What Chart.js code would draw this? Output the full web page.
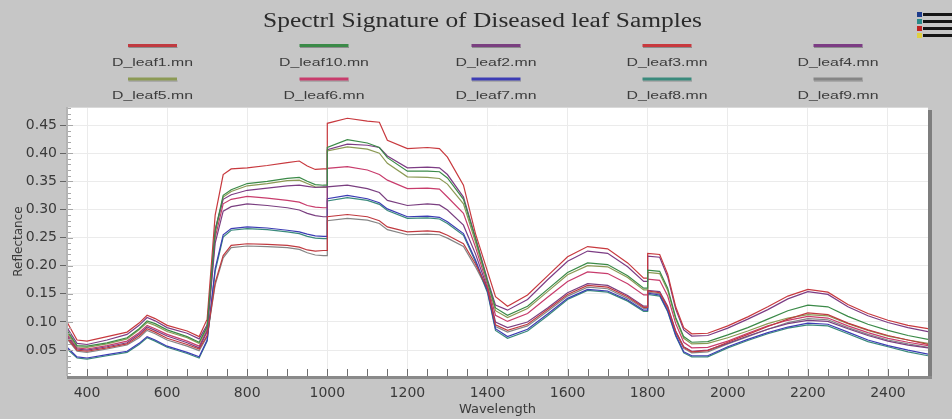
<!DOCTYPE html>
<html>
<head>
<meta charset="utf-8">
<script src="https://cdn.jsdelivr.net/npm/chart.js@4/dist/chart.umd.min.js"></script>
<style>
html,body{margin:0;padding:0;background:#c6c6c6;overflow:hidden;}
#wrap{width:952px;height:419px;position:relative;}
</style>
</head>
<body>
<div id="wrap"><canvas id="c" width="952" height="419"></canvas></div>
<script>
// ---------- data ----------
const chartTitle = 'Spectrl Signature of Diseased leaf Samples';
const xTitle = 'Wavelength';
const yTitle = 'Reflectance';

const wavelengths = [350,375,400,450,500,530,550,570,600,650,680,700,
  720,740,760,800,850,900,930,950,970,990,1000,
  1000,1050,1100,1130,1150,1200,1250,1280,1300,1340,1370,1400,1420,
  1450,1500,1550,1600,1650,1700,1750,1790,1800,
  1800,1830,1850,1870,1890,1910,1950,2000,2050,2100,2150,2200,2250,2300,2350,2400,2450,2500];

const leaf1 = [0.072,0.050,0.048,0.054,0.061,0.075,0.088,0.082,0.071,0.060,0.052,0.076,
  0.170,0.218,0.236,0.239,0.238,0.236,0.233,0.228,0.226,0.227,0.227,
  0.287,0.291,0.287,0.280,0.269,0.260,0.262,0.260,0.254,0.239,0.203,0.160,0.095,
  0.085,0.096,0.122,0.149,0.165,0.162,0.145,0.126,0.126,
  0.155,0.152,0.126,0.083,0.055,0.047,0.049,0.064,0.078,0.092,0.105,0.116,0.113,0.098,0.086,0.076,0.068,0.060];
const leaf10 = [0.085,0.058,0.057,0.063,0.072,0.088,0.102,0.097,0.086,0.074,0.064,0.092,
  0.262,0.325,0.335,0.346,0.350,0.355,0.357,0.350,0.344,0.343,0.343,
  0.410,0.424,0.418,0.410,0.392,0.368,0.368,0.367,0.356,0.318,0.248,0.172,0.125,
  0.112,0.128,0.158,0.188,0.205,0.202,0.182,0.160,0.160,
  0.192,0.190,0.160,0.108,0.074,0.064,0.065,0.077,0.090,0.105,0.120,0.130,0.127,0.110,0.096,0.085,0.076,0.069];
const leaf2 = [0.075,0.052,0.050,0.056,0.063,0.078,0.091,0.085,0.075,0.063,0.054,0.083,
  0.240,0.297,0.305,0.310,0.307,0.303,0.299,0.293,0.289,0.287,0.287,
  0.340,0.343,0.337,0.330,0.316,0.307,0.310,0.308,0.299,0.272,0.221,0.160,0.100,
  0.090,0.100,0.125,0.152,0.168,0.165,0.147,0.128,0.128,
  0.156,0.154,0.128,0.084,0.056,0.048,0.050,0.062,0.075,0.087,0.097,0.103,0.101,0.088,0.076,0.066,0.059,0.054];
const leaf3 = [0.100,0.068,0.066,0.074,0.082,0.098,0.112,0.106,0.094,0.084,0.074,0.105,
  0.290,0.362,0.372,0.374,0.378,0.383,0.386,0.377,0.371,0.372,0.372,
  0.453,0.462,0.457,0.455,0.423,0.408,0.410,0.408,0.393,0.343,0.257,0.190,0.145,
  0.128,0.148,0.182,0.216,0.234,0.230,0.205,0.178,0.178,
  0.222,0.220,0.185,0.127,0.090,0.079,0.080,0.093,0.109,0.127,0.146,0.158,0.153,0.131,0.115,0.103,0.094,0.088];
const leaf4 = [0.090,0.062,0.060,0.068,0.078,0.094,0.108,0.102,0.090,0.080,0.070,0.095,
  0.265,0.318,0.326,0.334,0.338,0.342,0.343,0.341,0.339,0.340,0.340,
  0.406,0.416,0.414,0.410,0.395,0.374,0.375,0.374,0.362,0.322,0.250,0.175,0.130,
  0.121,0.140,0.175,0.208,0.226,0.222,0.198,0.172,0.172,
  0.217,0.215,0.180,0.123,0.086,0.075,0.076,0.089,0.105,0.122,0.141,0.154,0.149,0.127,0.111,0.099,0.090,0.083];
const leaf5 = [0.082,0.056,0.055,0.061,0.070,0.086,0.099,0.094,0.083,0.072,0.062,0.090,
  0.258,0.322,0.332,0.342,0.346,0.351,0.352,0.346,0.340,0.339,0.339,
  0.404,0.411,0.407,0.400,0.382,0.358,0.357,0.355,0.345,0.310,0.242,0.170,0.120,
  0.108,0.124,0.154,0.184,0.200,0.198,0.179,0.157,0.157,
  0.188,0.186,0.156,0.105,0.071,0.061,0.062,0.072,0.084,0.097,0.107,0.113,0.111,0.097,0.085,0.075,0.068,0.062];
const leaf6 = [0.078,0.054,0.052,0.058,0.066,0.081,0.094,0.088,0.078,0.066,0.057,0.086,
  0.250,0.310,0.318,0.323,0.320,0.316,0.313,0.307,0.304,0.303,0.303,
  0.373,0.376,0.370,0.362,0.352,0.337,0.338,0.336,0.322,0.293,0.233,0.165,0.112,
  0.101,0.115,0.144,0.172,0.189,0.186,0.168,0.148,0.148,
  0.176,0.174,0.146,0.097,0.064,0.054,0.055,0.066,0.080,0.093,0.103,0.110,0.107,0.093,0.081,0.071,0.064,0.058];
const leaf7 = [0.055,0.038,0.036,0.042,0.048,0.062,0.074,0.068,0.057,0.046,0.038,0.068,
  0.195,0.255,0.266,0.269,0.267,0.263,0.260,0.256,0.253,0.252,0.252,
  0.319,0.325,0.319,0.312,0.301,0.287,0.288,0.286,0.278,0.257,0.210,0.155,0.088,
  0.074,0.087,0.114,0.142,0.158,0.155,0.139,0.121,0.121,
  0.151,0.148,0.120,0.077,0.047,0.040,0.040,0.056,0.069,0.081,0.091,0.098,0.096,0.082,0.068,0.058,0.050,0.043];
const leaf8 = [0.052,0.036,0.034,0.040,0.046,0.060,0.072,0.066,0.055,0.044,0.036,0.066,
  0.190,0.251,0.263,0.266,0.264,0.260,0.257,0.252,0.249,0.248,0.248,
  0.315,0.321,0.316,0.309,0.298,0.284,0.285,0.283,0.275,0.254,0.207,0.152,0.085,
  0.071,0.084,0.111,0.140,0.156,0.153,0.137,0.119,0.119,
  0.149,0.146,0.118,0.075,0.045,0.038,0.038,0.054,0.067,0.079,0.089,0.095,0.093,0.079,0.065,0.056,0.047,0.040];
const leaf9 = [0.070,0.048,0.046,0.052,0.059,0.072,0.085,0.079,0.068,0.057,0.049,0.074,
  0.166,0.214,0.232,0.235,0.234,0.232,0.229,0.223,0.219,0.218,0.218,
  0.280,0.284,0.281,0.275,0.264,0.255,0.256,0.255,0.249,0.234,0.198,0.157,0.092,
  0.082,0.093,0.119,0.146,0.162,0.159,0.142,0.124,0.124,
  0.153,0.150,0.124,0.081,0.053,0.045,0.047,0.061,0.074,0.087,0.099,0.106,0.104,0.090,0.078,0.068,0.061,0.055];

const seriesNames = ['D_leaf1.mn','D_leaf10.mn','D_leaf2.mn','D_leaf3.mn','D_leaf4.mn',
                     'D_leaf5.mn','D_leaf6.mn','D_leaf7.mn','D_leaf8.mn','D_leaf9.mn'];
const seriesValues = [leaf1, leaf10, leaf2, leaf3, leaf4, leaf5, leaf6, leaf7, leaf8, leaf9];
const seriesColors = ['#c03a40','#3b8a48','#7a3f80','#c8393e','#7c3c84',
                      '#8c9a55','#c83c6c','#3c3cb4','#3a8a7c','#858585'];

const xTickValues = [400,600,800,1000,1200,1400,1600,1800,2000,2200,2400];
const yTickValues = [0.05,0.10,0.15,0.20,0.25,0.30,0.35,0.40,0.45];
const xMinorTickValues = [400,450,500,550,600,650,700,750,800,850,900,950,1000,1050,1100,1150,1200,1250,1300,1350,1400,1450,1500,1550,1600,1650,1700,1750,1800,1850,1900,1950,2000,2050,2100,2150,2200,2250,2300,2350,2400,2450];

// ---------- chart ----------
const datasets = seriesNames.map((name, i) => ({
  label: name,
  data: wavelengths.map((w, j) => ({x: w, y: seriesValues[i][j]})),
  borderColor: seriesColors[i],
  backgroundColor: seriesColors[i],
  borderWidth: 1.2,
  pointRadius: 0,
  tension: 0,
  fill: false
}));

const decorPlugin = {
  id: 'decor',
  beforeDraw(chart) {
    const {ctx, chartArea: a} = chart;
    ctx.save();
    ctx.fillStyle = '#c6c6c6';
    ctx.fillRect(0, 0, chart.width, chart.height);
    ctx.fillStyle = '#ffffff';
    ctx.fillRect(a.left, a.top, a.right - a.left, a.bottom - a.top);
    ctx.restore();
  },
  afterDatasetsDraw(chart) {
    const {ctx, chartArea: a, scales} = chart;
    ctx.save();
    // x minor ticks (inside, from bottom)
    ctx.strokeStyle = '#707070';
    ctx.lineWidth = 1;
    ctx.beginPath();
    xMinorTickValues.forEach(v => {
      const px = Math.round(scales.x.getPixelForValue(v)) + 0.5;
      ctx.moveTo(px, a.bottom);
      ctx.lineTo(px, a.bottom - 7);
    });
    ctx.stroke();
    // y minor ticks (inside, from left)
    ctx.strokeStyle = '#a8a8a8';
    ctx.beginPath();
    for (let k = 1; k <= 48; k++) {
      const py = Math.round(scales.y.getPixelForValue(k / 100)) + 0.5;
      const len = (k % 5 === 0) ? 6 : 4;
      ctx.moveTo(a.left, py);
      ctx.lineTo(a.left + len, py);
    }
    ctx.stroke();
    // frame
    ctx.fillStyle = '#d9d9d9';
    ctx.fillRect(a.left, a.top, a.right - a.left, 1);
    ctx.fillStyle = '#b4b4b4';
    ctx.fillRect(a.left - 1, a.top, 2, a.bottom - a.top);
    // shadow right & bottom axis
    ctx.fillStyle = '#7e7e7e';
    ctx.fillRect(a.right, a.top + 3, 4, a.bottom - a.top);
    ctx.fillStyle = '#8a8a8a';
    ctx.fillRect(a.left, a.bottom, a.right - a.left + 4, 3);
    ctx.restore();
  },
  afterDraw(chart) {
    const ctx = chart.ctx;
    ctx.save();
    // title (horizontally stretched serif)
    ctx.font = '20px "Liberation Serif", "Times New Roman", serif';
    ctx.fillStyle = '#2b2b2b';
    ctx.textBaseline = 'alphabetic';
    ctx.textAlign = 'left';
    const tw = ctx.measureText(chartTitle).width;
    const tScale = 439 / tw;
    ctx.save();
    ctx.translate(482.5 - 439 / 2, 27);
    ctx.scale(tScale, 1);
    ctx.fillText(chartTitle, 0, 0);
    ctx.restore();

    // legend: 5 columns x 2 rows, line above label
    ctx.font = '11px "Liberation Sans", Arial, sans-serif';
    const refW = ctx.measureText('D_leaf1.mn').width;
    const lScale = 81 / refW;
    const colX = [152.5, 324, 496, 667, 838];
    const lineY = [44, 77.5];
    const textY = [66, 99];
    chart.data.datasets.forEach((ds, i) => {
      const c = i % 5, r = Math.floor(i / 5);
      const cx = colX[c];
      ctx.fillStyle = 'rgba(70,70,70,0.45)';
      ctx.fillRect(cx - 24, lineY[r] + 3, 49, 1);
      ctx.fillStyle = ds.borderColor;
      ctx.fillRect(cx - 24.5, lineY[r], 49, 3);
      ctx.fillStyle = '#3c3c3c';
      const w = ctx.measureText(ds.label).width * lScale;
      ctx.save();
      ctx.translate(cx - w / 2, textY[r]);
      ctx.scale(lScale, 1);
      ctx.fillText(ds.label, 0, 0);
      ctx.restore();
    });

    // legend icon top-right
    const iconColors = ['#1e3c8c', '#2a8a8a', '#c02222', '#e0d040'];
    iconColors.forEach((col, k) => {
      const y = 12 + k * 7;
      ctx.fillStyle = col;
      ctx.fillRect(917, y, 5, 5);
      ctx.fillStyle = '#151515';
      ctx.fillRect(923, y + 1, 29, 3);
    });
    ctx.restore();
  }
};

new Chart(document.getElementById('c'), {
  type: 'line',
  data: { datasets },
  options: {
    responsive: false,
    animation: false,
    devicePixelRatio: 1,
    events: [],
    layout: { padding: { top: 107, right: 24, left: 0, bottom: 0 } },
    plugins: {
      legend: { display: false },
      title: { display: false },
      tooltip: { enabled: false }
    },
    scales: {
      x: {
        type: 'linear',
        min: 350,
        max: 2500,
        afterBuildTicks(scale) { scale.ticks = xTickValues.map(v => ({value: v})); },
        afterFit(scale) { scale.height = 43; },
        grid: { color: '#ebebeb', drawTicks: false },
        border: { display: false },
        ticks: {
          padding: 9,
          color: '#3a3a3a',
          font: { family: '"DejaVu Sans", sans-serif', size: 14 },
          callback: v => String(v)
        },
        title: {
          display: true,
          text: xTitle,
          color: '#3a3a3a',
          font: { family: '"DejaVu Sans", sans-serif', size: 13 },
          padding: { top: 0, bottom: 2 }
        }
      },
      y: {
        min: 0.004,
        max: 0.482,
        afterBuildTicks(scale) { scale.ticks = yTickValues.map(v => ({value: v})); },
        afterFit(scale) { scale.width = 67; },
        grid: { color: '#ebebeb', tickColor: '#666666', tickLength: 7 },
        border: { display: false },
        ticks: {
          padding: 3,
          color: '#3a3a3a',
          font: { family: '"DejaVu Sans", sans-serif', size: 14 },
          callback: v => Number(v).toFixed(2)
        },
        title: {
          display: true,
          text: yTitle,
          color: '#3a3a3a',
          font: { family: '"DejaVu Sans", sans-serif', size: 12 },
          padding: { top: 12, bottom: 0 }
        }
      }
    }
  },
  plugins: [decorPlugin]
});
</script>
</body>
</html>
